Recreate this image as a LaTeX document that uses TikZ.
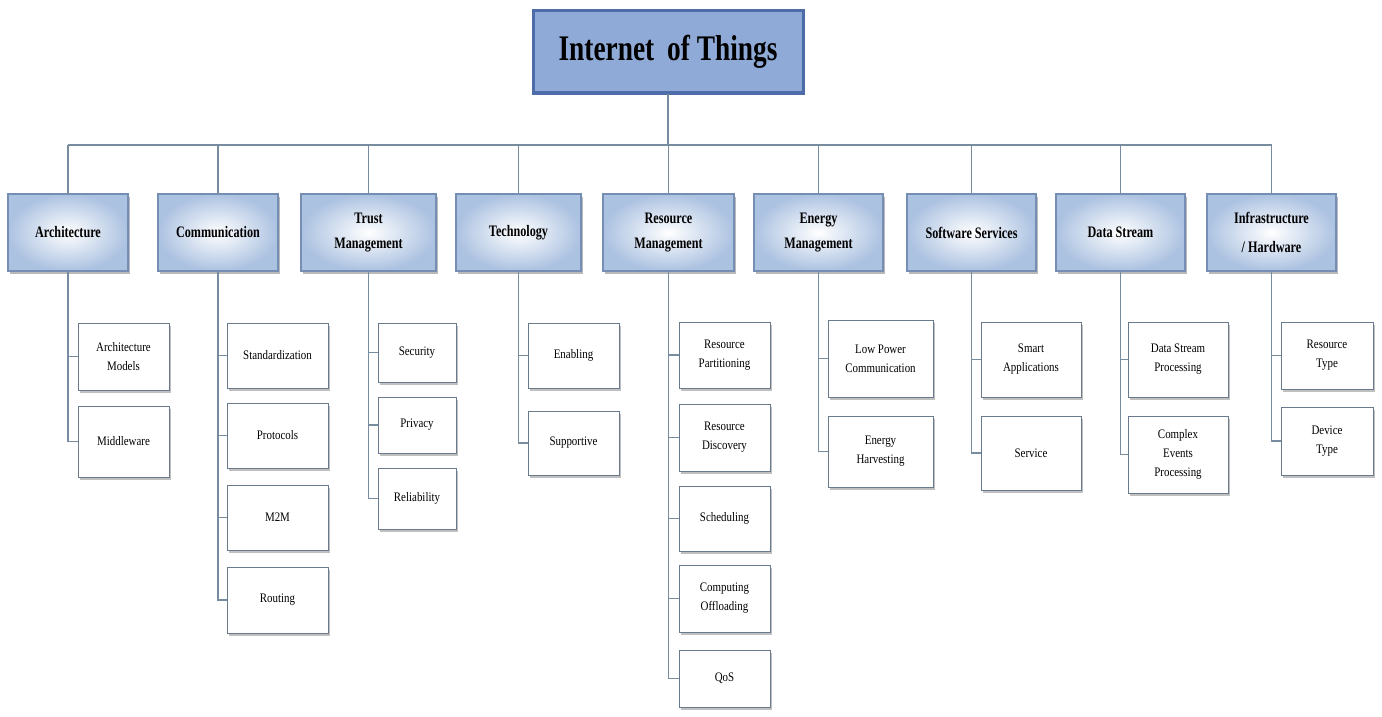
\documentclass[tikz,border=0pt]{standalone}
\usepackage{fontspec}
\setmainfont{Liberation Serif}
\newfontfamily\condfont[FakeStretch=0.76]{Liberation Serif}
\newfontfamily\leaffont[FakeStretch=0.84]{Liberation Serif}
\usetikzlibrary{shadows}
\definecolor{topfill}{RGB}{143,170,214}
\definecolor{topborder}{RGB}{78,108,168}
\definecolor{catborder}{RGB}{118,142,180}
\definecolor{catouter}{RGB}{172,194,225}
\definecolor{leafborder}{RGB}{105,122,140}
\definecolor{wirecol}{RGB}{120,140,160}
\tikzset{
 topbox/.style={draw=topborder, line width=3pt, fill=topfill, minimum width=270pt, minimum height=82pt,
   font=\condfont\bfseries\fontsize{36}{40}\selectfont, inner sep=0pt},
 catbox/.style={draw=catborder, line width=1.2pt, inner color=white, outer color=catouter,
   drop shadow={shadow xshift=2pt, shadow yshift=-3pt, fill=black!50, opacity=0.55},
   minimum height=77pt, align=center, font=\condfont\bfseries\fontsize{16}{25}\selectfont, inner sep=0pt},
 leafbox/.style={draw=leafborder, line width=1pt, fill=white,
   drop shadow={shadow xshift=2pt, shadow yshift=-3pt, fill=black!45, opacity=0.55},
   align=center, font=\leaffont\fontsize{13}{19}\selectfont, inner sep=0pt},
 wire/.style={draw=wirecol, line width=1.3pt},
}
\begin{document}
\begin{tikzpicture}[x=1pt, y=-1pt]
\useasboundingbox (0,0) rectangle (1382,717);
% root
\node[topbox] (iot) at (668,52) {Internet\, of Things};
% categories
\node[catbox, minimum width=120pt] (arch) at (68,232.5) {Architecture};
\node[catbox, minimum width=120pt] (comm) at (218,232.5) {Communication};
\node[catbox, minimum width=135pt] (trust) at (368.5,232.5) {Trust\\Management};
\node[catbox, minimum width=125pt] (tech) at (518.5,232.5) {Technology};
\node[catbox, minimum width=131pt] (res) at (668.5,232.5) {Resource\\Management};
\node[catbox, minimum width=129pt] (energy) at (818.5,232.5) {Energy\\Management};
\node[catbox, minimum width=129pt] (soft) at (971.5,232.5) {Software Services};
\node[catbox, minimum width=129pt] (data) at (1120.5,232.5) {Data Stream};
\node[catbox, minimum width=129pt, font=\condfont\bfseries\fontsize{16}{29}\selectfont] (infra) at (1271.5,232.5) {Infrastructure\\/ Hardware};
% leaves: architecture
\node[leafbox, minimum width=91pt, minimum height=67pt] (am) at (123.5,356.5) {Architecture\\Models};
\node[leafbox, minimum width=91pt, minimum height=71pt] (mw) at (123.5,441.5) {Middleware};
% communication
\node[leafbox, minimum width=101pt, minimum height=65pt] (std) at (277.5,355.5) {Standardization};
\node[leafbox, minimum width=101pt, minimum height=65pt] (prot) at (277.5,435.5) {Protocols};
\node[leafbox, minimum width=101pt, minimum height=65pt] (mm) at (277.5,517.5) {M2M};
\node[leafbox, minimum width=101pt, minimum height=66pt] (rout) at (277.5,600) {Routing};
% trust
\node[leafbox, minimum width=78pt, minimum height=59pt] (sec) at (417,352.5) {Security};
\node[leafbox, minimum width=78pt, minimum height=56pt] (priv) at (417,425) {Privacy};
\node[leafbox, minimum width=78pt, minimum height=61pt] (rel) at (417,498.5) {Reliability};
% technology
\node[leafbox, minimum width=91pt, minimum height=65pt] (en) at (573.5,355.5) {Enabling};
\node[leafbox, minimum width=91pt, minimum height=64pt] (sup) at (573.5,443) {Supportive};
% resource
\node[leafbox, minimum width=91pt, minimum height=66pt] (rp) at (724.5,355) {Resource\\Partitioning};
\node[leafbox, minimum width=91pt, minimum height=67pt] (rd) at (724.5,437.5) {Resource\\Discovery};
\node[leafbox, minimum width=91pt, minimum height=65pt] (sch) at (724.5,518.5) {Scheduling};
\node[leafbox, minimum width=91pt, minimum height=67pt] (co) at (724.5,598.5) {Computing\\Offloading};
\node[leafbox, minimum width=91pt, minimum height=57pt] (qos) at (724.5,678.5) {QoS};
% energy
\node[leafbox, minimum width=105pt, minimum height=77pt] (lpc) at (880.5,358.5) {Low Power\\Communication};
\node[leafbox, minimum width=105pt, minimum height=71pt] (eh) at (880.5,451.5) {Energy\\Harvesting};
% software
\node[leafbox, minimum width=100pt, minimum height=75pt] (sa) at (1031,359.5) {Smart\\Applications};
\node[leafbox, minimum width=100pt, minimum height=74pt] (svc) at (1031,453) {Service};
% data stream
\node[leafbox, minimum width=100pt, minimum height=75pt] (dsp) at (1178,359.5) {Data Stream\\Processing};
\node[leafbox, minimum width=100pt, minimum height=77pt] (cep) at (1178,454.5) {Complex\\Events\\Processing};
% infrastructure
\node[leafbox, minimum width=92pt, minimum height=67pt] (rt) at (1327,355.5) {Resource\\Type};
\node[leafbox, minimum width=92pt, minimum height=68pt] (dt) at (1327,441) {Device\\Type};
% bus
\coordinate (busL) at (68,145);
\coordinate (busR) at (1271.5,145);
\draw[wire] (iot.south) -- (iot.south |- busL);
\draw[wire] (busL) -- (busR);
\foreach \c in {arch,comm,trust,tech,res,energy,soft,data,infra}
  \draw[wire] (\c.north) -- (\c.north |- busL);
% branches
\foreach \p/\l in {arch/am,arch/mw,comm/std,comm/prot,comm/mm,comm/rout,trust/sec,trust/priv,trust/rel,
  tech/en,tech/sup,res/rp,res/rd,res/sch,res/co,res/qos,energy/lpc,energy/eh,soft/sa,soft/svc,
  data/dsp,data/cep,infra/rt,infra/dt}
  \draw[wire] (\p.south) |- (\l.west);
\end{tikzpicture}
\end{document}
